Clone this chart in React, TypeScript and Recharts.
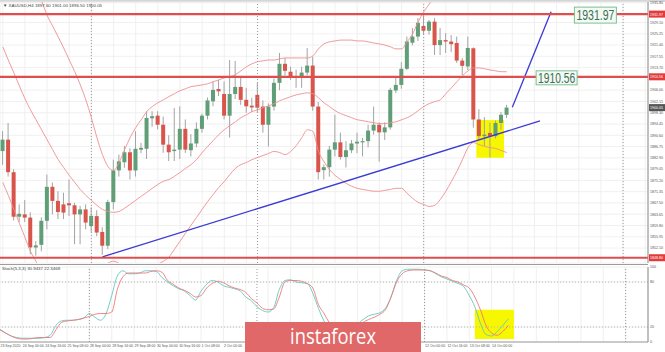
import React from 'react';
import {
  ComposedChart, Bar, Line, XAxis, YAxis, CartesianGrid,
  ReferenceLine, ReferenceArea, ReferenceDot,
} from 'recharts';

// ---------- DATA ----------
const openP = [
  1885.2, 1889.1, 1878.0, 1862.8, 1863.6, 1862.5, 1852.3, 1853.2, 1861.4, 1873.0,
  1868.2, 1867.0, 1867.4, 1866.7, 1863.6, 1865.3, 1859.6, 1863.0, 1857.6, 1852.9,
  1867.8, 1878.6, 1881.4, 1884.8, 1878.6, 1885.7, 1886.0, 1896.4, 1897.3, 1894.2,
  1887.4, 1885.2, 1885.7, 1892.8, 1885.5, 1887.8, 1892.8, 1897.3, 1902.2, 1906.4,
  1904.7, 1897.3, 1904.7, 1907.1, 1902.7, 1900.7, 1904.4, 1900.4, 1894.2, 1900.4,
  1908.5, 1915.0, 1912.3, 1910.2, 1910.6, 1912.0, 1914.4, 1900.4, 1878.7, 1879.7,
  1885.7, 1888.2, 1883.2, 1885.5, 1887.8, 1888.2, 1888.6, 1892.2, 1894.2, 1891.6,
  1893.3, 1905.9, 1907.8, 1913.3, 1922.2, 1924.3, 1927.9, 1926.3, 1929.4, 1921.4,
  1923.1, 1922.6, 1922.1, 1916.1, 1914.1, 1920.3, 1896.0, 1890.3, 1891.4, 1890.3,
  1894.8, 1897.6,
];
const highP = [
  1892.0, 1894.8, 1879.0, 1867.0, 1868.5, 1864.3, 1854.5, 1862.6, 1877.2, 1874.5,
  1871.5, 1871.0, 1875.5, 1867.5, 1866.5, 1867.0, 1866.0, 1865.0, 1859.2, 1868.6,
  1882.3, 1884.0, 1886.9, 1886.2, 1892.0, 1888.0, 1898.8, 1898.8, 1898.8, 1897.0,
  1890.6, 1899.9, 1900.5, 1896.0, 1891.0, 1895.0, 1898.0, 1903.5, 1909.0, 1909.5,
  1909.0, 1916.3, 1916.0, 1910.7, 1906.8, 1903.4, 1908.5, 1902.5, 1901.5, 1910.0,
  1918.7, 1917.0, 1914.0, 1913.0, 1914.0, 1920.4, 1917.4, 1902.0, 1880.6, 1887.0,
  1897.6, 1891.5, 1888.6, 1889.0, 1891.5, 1889.7, 1894.2, 1900.4, 1895.0, 1895.0,
  1906.8, 1910.7, 1915.6, 1924.3, 1927.2, 1930.6, 1931.6, 1930.0, 1930.6, 1927.2,
  1925.5, 1924.8, 1924.3, 1917.0, 1924.3, 1920.6, 1899.5, 1896.8, 1894.9, 1895.6,
  1898.6, 1901.0,
];
const lowP = [
  1880.5, 1876.5, 1861.5, 1861.0, 1861.0, 1850.0, 1849.5, 1851.0, 1858.5, 1863.6,
  1862.0, 1862.0, 1863.0, 1853.4, 1853.4, 1858.5, 1857.5, 1856.2, 1849.8, 1851.7,
  1865.3, 1876.5, 1879.5, 1875.5, 1876.5, 1884.5, 1882.5, 1893.5, 1892.6, 1884.6,
  1881.8, 1881.8, 1882.5, 1884.6, 1883.4, 1886.5, 1891.5, 1896.0, 1900.5, 1904.0,
  1896.0, 1889.8, 1903.0, 1901.0, 1898.3, 1898.6, 1898.3, 1891.5, 1886.8, 1899.0,
  1906.0, 1911.0, 1909.5, 1906.8, 1906.8, 1911.0, 1899.0, 1875.5, 1875.5, 1876.5,
  1883.4, 1882.3, 1879.6, 1884.5, 1884.5, 1883.4, 1886.5, 1890.8, 1881.6, 1889.0,
  1892.5, 1905.0, 1906.5, 1912.9, 1921.3, 1922.8, 1925.0, 1925.0, 1918.0, 1918.0,
  1918.7, 1919.0, 1915.3, 1911.2, 1912.9, 1893.2, 1889.0, 1887.0, 1883.0, 1889.5,
  1892.5, 1896.5,
];
const closeP = [
  1889.1, 1878.0, 1862.8, 1863.8, 1862.5, 1852.3, 1853.0, 1861.4, 1873.0, 1868.2,
  1864.4, 1864.2, 1866.7, 1863.6, 1865.3, 1860.8, 1863.1, 1857.4, 1852.9, 1867.8,
  1878.6, 1881.7, 1884.8, 1878.6, 1886.0, 1886.3, 1896.5, 1897.1, 1894.2, 1887.4,
  1884.8, 1885.7, 1892.8, 1885.7, 1887.8, 1892.8, 1897.3, 1902.5, 1906.1, 1905.6,
  1897.3, 1904.7, 1907.1, 1902.7, 1900.5, 1900.1, 1900.0, 1894.2, 1900.4, 1908.5,
  1915.0, 1912.6, 1910.6, 1910.6, 1912.0, 1914.4, 1900.4, 1878.0, 1879.7, 1885.7,
  1888.2, 1883.2, 1885.5, 1887.8, 1888.4, 1888.6, 1892.2, 1894.2, 1891.6, 1893.3,
  1906.1, 1907.8, 1913.3, 1922.6, 1924.3, 1929.0, 1926.3, 1929.4, 1921.4, 1923.1,
  1922.6, 1921.7, 1916.1, 1914.3, 1920.4, 1896.0, 1890.3, 1890.8, 1890.3, 1894.8,
  1897.6, 1900.05,
];
const bbUpper = [
  1964.0, 1959.9, 1955.8, 1951.7, 1947.6, 1943.6, 1939.5, 1936.4, 1931.6, 1927.9,
  1924.2, 1920.4, 1916.3, 1912.3, 1907.8, 1902.7, 1896.6, 1889.8, 1884.0, 1879.9,
  1878.6, 1881.3, 1885.7, 1889.8, 1893.2, 1895.9, 1898.7, 1900.4, 1901.7, 1902.7,
  1903.8, 1904.8, 1905.8, 1906.5, 1907.2, 1907.5, 1907.8, 1908.2, 1908.9, 1909.5,
  1910.2, 1910.6, 1911.3, 1912.6, 1914.0, 1915.0, 1915.7, 1916.0, 1916.3, 1916.3,
  1916.7, 1917.0, 1917.0, 1917.0, 1917.0, 1917.0, 1917.7, 1920.1, 1921.8, 1922.5,
  1922.8, 1923.1, 1923.1, 1923.1, 1922.8, 1922.8, 1922.5, 1922.1, 1921.8, 1921.4,
  1920.8, 1920.1, 1920.1, 1922.5, 1925.2, 1929.3, 1932.7, 1935.4, 1937.8, 1936.8,
  1938.1, 1938.8, 1939.5, 1939.5, 1938.8, 1939.1, 1939.8, 1939.8, 1939.5, 1939.1,
  1939.1, 1939.8,
];
const bbMiddle = [
  1920.8, 1916.3, 1911.9, 1907.5, 1903.1, 1899.3, 1895.9, 1892.5, 1889.1, 1885.7,
  1882.3, 1879.6, 1876.9, 1874.5, 1872.1, 1870.1, 1868.4, 1866.7, 1865.3, 1864.6,
  1864.3, 1864.6, 1865.7, 1867.0, 1868.4, 1869.8, 1871.1, 1872.5, 1873.8, 1874.9,
  1875.5, 1876.6, 1877.9, 1879.3, 1880.6, 1882.3, 1884.7, 1886.8, 1888.8, 1890.8,
  1892.5, 1893.9, 1895.2, 1896.6, 1897.6, 1898.7, 1899.3, 1900.0, 1900.7, 1901.4,
  1902.4, 1903.1, 1903.8, 1904.4, 1904.8, 1905.1, 1904.8, 1903.4, 1901.7, 1900.4,
  1899.0, 1898.0, 1897.3, 1896.6, 1895.9, 1895.6, 1895.2, 1894.9, 1894.6, 1894.6,
  1894.9, 1895.2, 1895.9, 1896.6, 1897.6, 1899.0, 1900.4, 1901.4, 1902.1, 1902.7,
  1904.8, 1906.8, 1908.9, 1910.9, 1912.6, 1913.6, 1913.6, 1913.3, 1912.9, 1912.6,
  1912.3, 1912.3,
];
const bbLower = [
  1874.5, 1870.1, 1865.3, 1860.6, 1855.8, 1851.0, 1847.6, 1844.2, 1842.2, 1840.2,
  1838.8, 1837.7, 1837.1, 1836.7, 1836.4, 1837.4, 1839.5, 1842.2, 1844.9, 1846.9,
  1847.6, 1846.9, 1845.6, 1844.2, 1843.6, 1843.6, 1844.2, 1845.6, 1846.6, 1847.6,
  1849.0, 1851.7, 1854.4, 1857.2, 1859.9, 1862.6, 1865.3, 1868.0, 1870.4, 1872.8,
  1874.8, 1877.2, 1879.3, 1880.6, 1881.3, 1882.3, 1883.0, 1883.7, 1884.4, 1885.1,
  1884.7, 1884.0, 1885.1, 1887.1, 1889.8, 1892.5, 1891.9, 1885.1, 1881.6, 1878.9,
  1876.9, 1875.5, 1874.2, 1873.2, 1872.5, 1872.1, 1871.8, 1871.5, 1871.5, 1871.8,
  1872.1, 1872.5, 1872.5, 1870.8, 1869.1, 1867.7, 1867.0, 1866.3, 1866.7, 1868.7,
  1871.5, 1874.8, 1878.3, 1882.3, 1886.4, 1888.1, 1887.4, 1886.8, 1886.4, 1886.1,
  1885.4, 1884.7,
];
const stochK = [
  17, 12, 8, 6, 5, 5, 5, 5, 6, 9,
  22, 28, 29, 29, 30, 32, 38, 33, 29, 38,
  62, 88, 95, 91, 91, 92, 95, 95, 94, 86,
  80, 75, 71, 68, 62, 56, 68, 77, 82, 80,
  75, 73, 71, 68, 60, 55, 47, 42, 40, 46,
  70, 82, 83, 80, 79, 78, 65, 45, 28, 15,
  8, 6, 10, 16, 24, 30, 35, 37, 39, 45,
  60, 82, 95, 97, 97, 97, 96, 95, 91, 87,
  84, 81, 78, 74, 62, 47, 25, 10, 8, 14,
  22, 31,
];
const stochD = [
  16, 12, 8, 5, 4, 4, 5, 6, 6, 6,
  16, 26, 28, 29, 30, 32, 34, 37, 38, 38,
  40, 70, 87, 92, 92, 92, 92, 94, 95, 93,
  82, 77, 72, 69, 65, 60, 62, 72, 78, 81,
  79, 75, 72, 70, 66, 58, 52, 45, 43, 44,
  60, 80, 82, 82, 81, 78, 72, 50, 38, 25,
  14, 9, 8, 12, 18, 26, 30, 33, 37, 43,
  60, 80, 91, 95, 96, 96, 96, 95, 92, 88,
  86, 82, 80, 76, 72, 60, 43, 22, 12, 9,
  14, 22,
];
// trend lines: [bar index, price]
const trendLow = [[18, 1849.1], [97, 1895.5]];
const trendUp = [[92, 1900.15], [99, 1932.8]];
// horizontal levels
const levelHigh = 1931.97;
const levelMid = 1910.56;
const levelLow = 1848.8;
const lastPrice = 1900.05;
// axis ticks
const priceTicks = [
  1852.10, 1855.95, 1859.80, 1863.65, 1867.50, 1871.35, 1875.20, 1879.05, 1882.90,
  1886.75, 1890.60, 1894.45, 1898.30, 1902.15, 1906.00, 1913.70, 1917.55,
  1921.40, 1925.25, 1929.10, 1935.80,
];
const stochTicks = [0, 20, 80, 100];
const timeLabels = [
  '23 Sep 2020', '24 Sep 00:00', '24 Sep 16:00', '25 Sep 08:00', '28 Sep 00:00',
  '28 Sep 16:00', '29 Sep 08:00', '30 Sep 00:00', '30 Sep 16:00', '1 Oct 08:00',
  '2 Oct 00:00', '2 Oct 16:00', '5 Oct 08:00', '6 Oct 00:00', '6 Oct 16:00',
  '7 Oct 08:00', '8 Oct 00:00', '8 Oct 16:00', '9 Oct 08:00', '12 Oct 00:00',
  '12 Oct 16:00', '13 Oct 08:00', '14 Oct 00:00',
];
// time labels hidden under the watermark banner in the original
const coveredTicks = [44, 48, 52, 56, 60, 64, 68, 72];
const weekSeparators = [16, 46, 76, 112];
const SLOTS = 117;

// ---------- TABLE ----------
const data = Array.from({ length: SLOTS }, (_, i) => {
  const row: any = { i };
  if (i < openP.length) {
    row.o = openP[i]; row.h = highP[i]; row.l = lowP[i]; row.c = closeP[i];
    row.range = [lowP[i], highP[i]];
    row.bbU = bbUpper[i]; row.bbM = bbMiddle[i]; row.bbL = bbLower[i];
    row.k = stochK[i]; row.d = stochD[i];
  }
  trendLow.forEach(([x, v]) => { if (x === i) row.t1 = v; });
  trendUp.forEach(([x, v]) => { if (x === i) row.t2 = v; });
  return row;
});
const xTicks = data.filter((r) => r.i % 4 === 0).map((r) => r.i);
const labelFor = (i: number) =>
  i % 4 === 0 && !coveredTicks.includes(i) ? timeLabels[i / 4] || '' : '';

// ---------- STYLE ----------
const GREEN = '#5f9e76';
const RED = '#d9554b';
const WICK = '#a3a3a3';
const BAND = '#ee8e8e';
const LEVEL = '#e04d4d';
const BLUE = '#3a3ad4';
const FONT = 'Liberation Sans, Arial, sans-serif';

const Candle = (props: any) => {
  const { x, y, width, height, payload } = props;
  if (!payload || payload.o == null) return null;
  const { o, h, l, c } = payload;
  const top = Math.min(y, y + height);
  const hh = Math.abs(height);
  const ppu = h > l ? hh / (h - l) : 0;
  const yO = top + (h - o) * ppu;
  const yC = top + (h - c) * ppu;
  const cx = x + width / 2;
  const bTop = Math.min(yO, yC);
  const bH = Math.max(Math.abs(yO - yC), 1);
  return (
    <g>
      <line x1={cx} x2={cx} y1={top} y2={top + hh} stroke={WICK} strokeWidth={1} />
      <rect x={cx - 2} y={bTop} width={4} height={bH} fill={c >= o ? GREEN : RED} />
    </g>
  );
};

const AxisBadge = (props: any) => {
  const { viewBox, text, bg } = props;
  if (!viewBox) return null;
  const x = viewBox.x + viewBox.width;
  const y = viewBox.y;
  return (
    <g>
      <rect x={x + 1} y={y - 3.5} width={16} height={7} fill={bg} />
      <text x={x + 2} y={y + 1.5} fontSize={3.6} fill="#fff" fontFamily={FONT}>{text}</text>
    </g>
  );
};

const LevelTag = (props: any) => {
  const { cx, cy, text, w, h } = props;
  if (cx == null) return null;
  return (
    <g>
      <rect x={cx - w / 2} y={cy - h / 2 + 1} width={w} height={h} fill="#f2faf3" stroke="#7cc092" strokeWidth={1} />
      <text x={cx} y={cy + 6} textAnchor="middle" fontSize={14} fill="#3e6e57" fontFamily={FONT}
        textLength={w - 4} lengthAdjust="spacingAndGlyphs">{text}</text>
    </g>
  );
};

const TimeTick = (props: any) => {
  const { x, payload } = props;
  const t = labelFor(payload.value);
  if (!t) return null;
  return <text x={x + 0.5} y={83} fontSize={3.5} fill="#555" fontFamily={FONT}>{t}</text>;
};

export default function App() {
  return (
    <div style={{ position: 'absolute', left: 0, top: 0, width: 665, height: 352, background: '#fff', overflow: 'hidden' }}>
      <div style={{ position: 'absolute', left: 0, top: 0, width: 665, height: 2, background: '#d6d6d6' }} />
      <div style={{ position: 'absolute', left: 0, top: 0 }}>
        <ComposedChart width={665} height={265} data={data} margin={{ top: 2, right: 0, bottom: 2, left: 0 }}>
          <CartesianGrid stroke="#ececec" strokeWidth={0.8} />
          <XAxis dataKey="i" type="category" hide ticks={xTicks} interval={0} />
          <YAxis orientation="right" width={17} domain={[1847.0, 1936.1]} allowDataOverflow
            ticks={priceTicks} interval={0} tickLine={false} tickSize={0} axisLine={{ stroke: '#8a8a8a' }}
            tick={{ fontSize: 3.6, fill: '#555', fontFamily: FONT }} tickMargin={2}
            tickFormatter={(v: number) => v.toFixed(2)} />
          <ReferenceArea x1={86} x2={90} y1={1882.9} y2={1895.8} fill="#f7f700" fillOpacity={1} stroke="none" />
          {weekSeparators.map((s) => (
            <ReferenceLine key={s} x={s} stroke="#9a9a9a" strokeDasharray="1 2" />
          ))}
          <Line dataKey="bbU" type="monotone" stroke={BAND} strokeWidth={0.9} dot={false} isAnimationActive={false} />
          <Line dataKey="bbM" type="monotone" stroke={BAND} strokeWidth={0.9} dot={false} isAnimationActive={false} />
          <Line dataKey="bbL" type="monotone" stroke={BAND} strokeWidth={0.9} dot={false} isAnimationActive={false} />
          <Bar dataKey="range" shape={<Candle />} isAnimationActive={false} />
          <Line dataKey="t1" stroke={BLUE} strokeWidth={1.3} dot={false} connectNulls isAnimationActive={false} />
          <Line dataKey="t2" stroke={BLUE} strokeWidth={1.3} dot={false} connectNulls isAnimationActive={false} />
          <ReferenceLine y={levelHigh} stroke={LEVEL} strokeWidth={2.2} label={<AxisBadge text={levelHigh.toFixed(2)} bg="#e23b3b" />} />
          <ReferenceLine y={levelMid} stroke={LEVEL} strokeWidth={2.2} label={<AxisBadge text={levelMid.toFixed(2)} bg="#e23b3b" />} />
          <ReferenceLine y={levelLow} stroke={LEVEL} strokeWidth={2.2} label={<AxisBadge text={levelLow.toFixed(2)} bg="#e23b3b" />} />
          <ReferenceLine y={lastPrice} stroke="none" label={<AxisBadge text={lastPrice.toFixed(2)} bg="#555" />} />
          <ReferenceDot x={107} y={levelHigh} r={0} shape={(p: any) => <LevelTag {...p} text={levelHigh.toFixed(2)} w={42} h={16} />} />
          <ReferenceDot x={100} y={levelMid} r={0} shape={(p: any) => <LevelTag {...p} text={levelMid.toFixed(2)} w={41} h={14} />} />
        </ComposedChart>
      </div>
      <div style={{ position: 'absolute', left: 0, top: 263.5, width: 648, height: 1, background: '#9c9c9c' }} />
      <div style={{ position: 'absolute', left: 0, top: 264 }}>
        <ComposedChart width={665} height={88} data={data} margin={{ top: 3, right: 0, bottom: 0, left: 0 }}>
          <CartesianGrid stroke="#ececec" strokeWidth={0.8} />
          <XAxis dataKey="i" type="category" ticks={xTicks} interval={0} height={10}
            tickLine={false} tickSize={0} axisLine={{ stroke: '#9c9c9c' }} tick={<TimeTick />} />
          <YAxis orientation="right" width={17} domain={[0, 100]} ticks={stochTicks} interval={0}
            tickLine={false} tickSize={0} axisLine={{ stroke: '#8a8a8a' }}
            tick={{ fontSize: 3.6, fill: '#555', fontFamily: FONT }} tickMargin={2} />
          <ReferenceArea x1={85} x2={92} y1={4} y2={43} fill="#f7f700" fillOpacity={1} stroke="none" />
          {weekSeparators.map((s) => (
            <ReferenceLine key={s} x={s} stroke="#9a9a9a" strokeDasharray="1 2" />
          ))}
          <ReferenceLine y={80} stroke="#b5b5b5" strokeDasharray="1 2" />
          <ReferenceLine y={20} stroke="#b5b5b5" strokeDasharray="1 2" />
          <Line dataKey="k" type="monotone" stroke="#63c7c0" strokeWidth={0.9} dot={false} isAnimationActive={false} />
          <Line dataKey="d" type="monotone" stroke="#ec7a7a" strokeWidth={0.9} dot={false} isAnimationActive={false} />
        </ComposedChart>
      </div>
      <svg width={665} height={352} style={{ position: 'absolute', left: 0, top: 0, pointerEvents: 'none' }}>
        <text x={3} y={6.5} fontSize={4.4} fill="#444" fontFamily={FONT}>▼ XAUUSD,H4  1897.60 1901.00 1896.50 1900.05</text>
        <text x={2} y={269.5} fontSize={4.4} fill="#444" fontFamily={FONT}>Stoch(5,3,3) 30.9437 22.3468</text>
        <rect x={245} y={322} width={176} height={31} fill="#e06868" />
        <text x={333} y={344} textAnchor="middle" fontSize={22} fill="#fff" fontFamily="Open Sans, sans-serif"
          textLength={86} lengthAdjust="spacingAndGlyphs">instaforex</text>
      </svg>
    </div>
  );
}
